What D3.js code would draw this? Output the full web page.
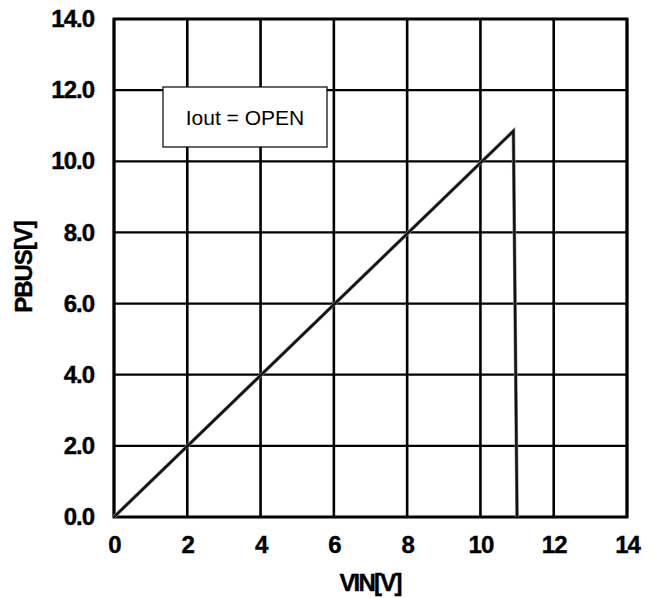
<!DOCTYPE html>
<html>
<head>
<meta charset="utf-8">
<style>
  body { margin: 0; background: #fff; }
  svg { display: block; }
</style>
</head>
<body>
<svg id="chart" width="657" height="598"></svg>

<script src="https://d3js.org/d3.v7.min.js"></script>
<script>
  // data
  var vin = [0, 10.9, 11.0];
  var pbus = [0, 10.85, 0];
  var xTicks = [0, 2, 4, 6, 8, 10, 12, 14];
  var yTicks = [0, 2, 4, 6, 8, 10, 12, 14];
  var legendText = "Iout = OPEN";

  var svg = d3.select("#chart");
  // plot area edges (note: "top" is a reserved window property)
  var plotL = 114, plotR = 627, plotT = 19, plotB = 517;
  var font = "'Liberation Sans', Arial, sans-serif";

  var x = d3.scaleLinear().domain([0, 14]).range([plotL, plotR]);
  var y = d3.scaleLinear().domain([0, 14]).range([plotB, plotT]);

  // grid lines
  svg.selectAll("line.vgrid")
    .data(xTicks)
    .enter()
    .append("line")
    .attr("x1", function (d) { return x(d) }).attr("x2", function (d) { return x(d) })
    .attr("y1", plotT).attr("y2", plotB)
    .style("stroke", "#000").style("stroke-width", 2.6);

  svg.selectAll("line.hgrid")
    .data(yTicks)
    .enter()
    .append("line")
    .attr("x1", plotL).attr("x2", plotR)
    .attr("y1", function (d) { return y(d) }).attr("y2", function (d) { return y(d) })
    .style("stroke", "#000").style("stroke-width", 2.2);

  // frame
  svg.append("rect")
    .attr("x", plotL).attr("y", plotT)
    .attr("width", plotR - plotL).attr("height", plotB - plotT)
    .style("fill", "none").style("stroke", "#000").style("stroke-width", 3);

  // axes, only for the labels
  var xAxis = svg.append("g")
    .attr("transform", "translate(0," + plotB + ")")
    .call(d3.axisBottom(x).tickValues(xTicks).tickSize(0).tickPadding(19).tickFormat(d3.format("d")));
  var yAxis = svg.append("g")
    .attr("transform", "translate(" + plotL + ",0)")
    .call(d3.axisLeft(y).tickValues(yTicks).tickSize(0).tickPadding(20).tickFormat(d3.format(".1f")));

  [xAxis, yAxis].forEach(function (g) {
    g.select(".domain").remove();
    g.selectAll("text")
      .style("font-family", font).style("font-size", "24px")
      .style("font-weight", "bold").style("letter-spacing", "-1px")
      .style("stroke", "#000").style("stroke-width", 0.4)
      .attr("fill", "#000");
  });

  // the measured curve
  var pts = vin.map(function (v, i) { return [v, pbus[i]] });
  var line = d3.line()
    .x(function (d) { return x(d[0]) })
    .y(function (d) { return y(d[1]) });

  svg.append("path")
    .attr("d", line(pts))
    .style("fill", "none").style("stroke", "#888").style("stroke-width", 3.6);
  svg.append("path")
    .attr("d", line(pts))
    .style("fill", "none").style("stroke", "#111").style("stroke-width", 2.4);

  // legend box
  svg.append("rect")
    .attr("x", 163).attr("y", 87).attr("width", 164).attr("height", 60)
    .style("fill", "#fff").style("stroke", "#000").style("stroke-width", 1.2);
  svg.append("text")
    .attr("x", 245).attr("y", 125)
    .attr("text-anchor", "middle")
    .style("font-family", font).style("font-size", "21px")
    .text(legendText);

  // axis titles
  svg.append("text")
    .attr("x", 370).attr("y", 591)
    .attr("text-anchor", "middle")
    .style("font-family", font).style("font-size", "24px")
    .style("font-weight", "bold").style("letter-spacing", "-1.8px")
    .style("stroke", "#000").style("stroke-width", 0.4)
    .text("VIN[V]");

  svg.append("text")
    .attr("transform", "translate(32,267) rotate(-90)")
    .attr("text-anchor", "middle")
    .style("font-family", font).style("font-size", "24px")
    .style("font-weight", "bold").style("letter-spacing", "-1px")
    .style("stroke", "#000").style("stroke-width", 0.4)
    .text("PBUS[V]");
</script>
</body>
</html>
